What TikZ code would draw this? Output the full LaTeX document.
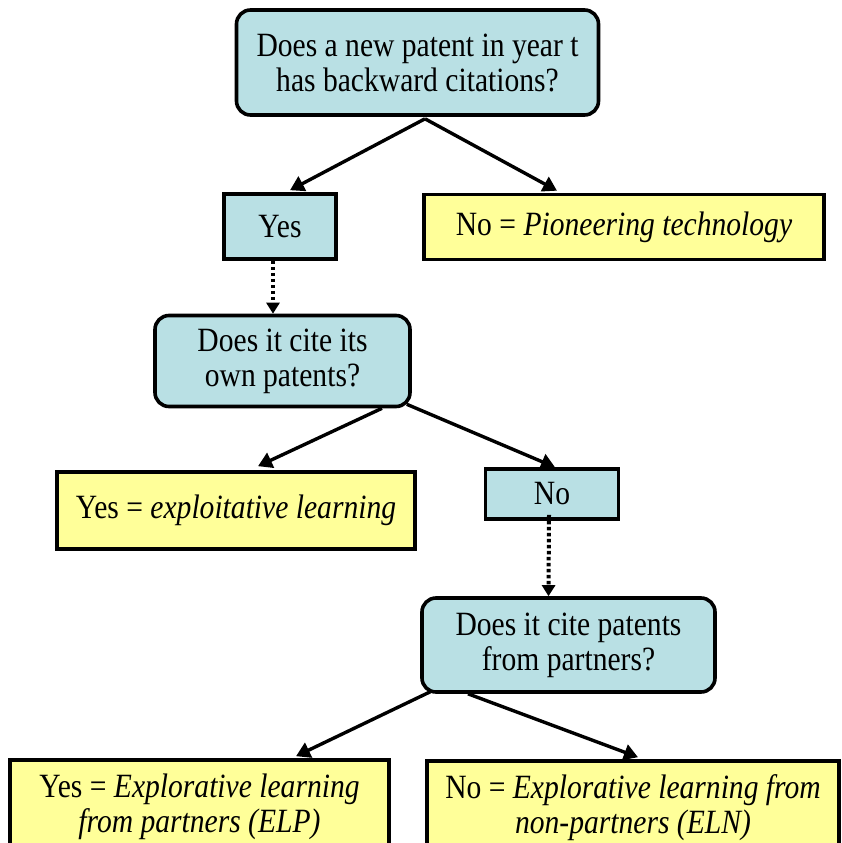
\documentclass[tikz,border=0pt]{standalone}
\usepackage{fontspec}
\setmainfont{Liberation Serif}[FakeStretch=0.87]
\usetikzlibrary{arrows.meta}
\definecolor{qcyan}{HTML}{B9E0E4}
\definecolor{ayellow}{HTML}{FFFF99}
\tikzset{
  qbox/.style={draw=black, line width=3.6pt, fill=qcyan, rounded corners=14pt, align=center, inner sep=0pt},
  cbox/.style={draw=black, line width=3.6pt, fill=qcyan, align=center, inner sep=0pt},
  ybox/.style={draw=black, line width=3.6pt, fill=ayellow, align=center, inner sep=0pt},
  arr/.style={line width=3.4pt, -{Triangle[length=14pt 0 0,width=16pt 0 0]}},
  darr/.style={line width=4pt, dash pattern=on 3.5pt off 2.5pt, -{Triangle[length=11pt 0 0,width=13pt 0 0]}},
}
\begin{document}
\begin{tikzpicture}[x=1pt,y=-1pt,font=\fontsize{34}{35}\selectfont]
\useasboundingbox (0,0) rectangle (841,843);
\clip (0,0) rectangle (841,843);
\fill[white] (0,0) rectangle (841,843);
\node[qbox, minimum width=362pt, minimum height=105pt] (q1) at (417.5,62.5)
  {Does a new patent in year t\\has backward citations?};
\node[cbox, minimum width=112pt, minimum height=65pt] (yes1) at (280,226.5) {Yes};
\node[ybox, minimum width=400pt, minimum height=65pt] (no1) at (624,227)
  {No = \textit{Pioneering technology}};
\node[qbox, minimum width=255pt, minimum height=91pt] (q2) at (282.5,361)
  {Does it cite its\\own patents?};
\node[ybox, minimum width=358pt, minimum height=77pt] (yes2) at (236,510.5)
  {Yes = \textit{exploitative learning}};
\node[cbox, minimum width=133pt, minimum height=50pt] (no2) at (552,494) {No};
\node[qbox, minimum width=293pt, minimum height=94pt] (q3) at (568.5,645)
  {Does it cite patents\\from partners?};
\node[ybox, minimum width=379pt, minimum height=94pt] (yes3) at (199.5,807)
  {Yes = \textit{Explorative learning}\\\textit{from partners (ELP)}};
\node[ybox, minimum width=412pt, minimum height=94pt] (no3) at (633,808)
  {No = \textit{Explorative learning from}\\\textit{non-partners (ELN)}};
% connectors
\coordinate (s1) at ([xshift=7.5pt,yshift=-2pt]q1.south);
\draw[arr] (s1) -- ([xshift=10pt,yshift=2pt]yes1.north);
\draw[arr] (s1) -- ([xshift=-67pt,yshift=2pt]no1.north);
\draw[darr] ([xshift=-7pt]yes1.south) -- ([xshift=-7pt]yes1.south |- q2.north);
\draw[arr] ([xshift=99.5pt]q2.south) -- ([xshift=22pt,yshift=4pt]yes2.north);
\draw[arr] ([xshift=-5pt,yshift=4pt]q2.south east) -- ([xshift=3pt]no2.north);
\draw[darr] ([xshift=-3pt,yshift=6pt]no2.south) -- ([xshift=-20pt]q3.north);
\draw[arr] ([xshift=10pt,yshift=2pt]q3.south west) -- ([xshift=96.5pt,yshift=2pt]yes3.north);
\draw[arr] ([xshift=-100.5pt]q3.south) -- ([xshift=5pt,yshift=2pt]no3.north);
\end{tikzpicture}
\end{document}
